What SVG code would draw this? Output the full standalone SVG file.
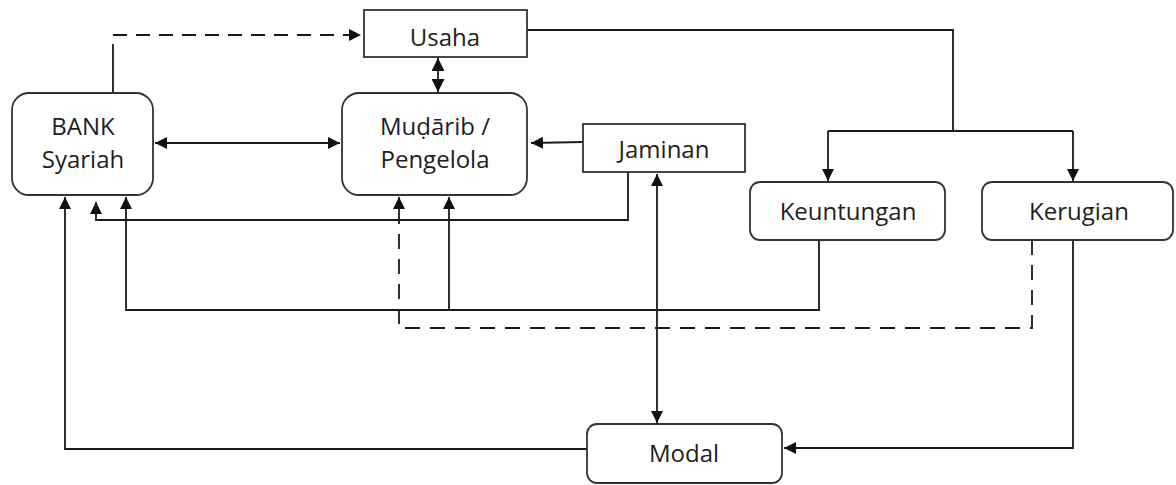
<svg xmlns="http://www.w3.org/2000/svg" width="1176" height="485" viewBox="0 0 1176 485">
<style>
.box{fill:#fff;stroke:#333;stroke-width:1.8}
.t{font-family:"Open Sans","Noto Sans",sans-serif;font-size:24px;fill:#1e1e1e;text-anchor:middle}
.c{fill:none;stroke:#1a1a1a;stroke-width:1.8}
.d{stroke-dasharray:14 9}
</style>
<defs>
<marker id="a" viewBox="0 0 10 10" refX="10" refY="5" markerWidth="12" markerHeight="13" markerUnits="userSpaceOnUse" orient="auto-start-reverse">
<path d="M0,0 L10,5 L0,10 z" fill="#111"/>
</marker>
<marker id="s" viewBox="0 0 10 10" refX="10" refY="5" markerWidth="14" markerHeight="13" markerUnits="userSpaceOnUse" orient="auto-start-reverse">
<path d="M0,0 L10,5 L0,10 z" fill="#111"/>
</marker>
</defs>
<g id="connectors">
<path class="c" d="M113,93 V44"/>
<path class="c d" d="M113,35 H361" marker-end="url(#a)"/>
<path class="c" d="M438,58 V92" marker-start="url(#s)" marker-end="url(#s)"/>
<path class="c" d="M155,143 H340" marker-start="url(#a)" marker-end="url(#a)"/>
<path class="c" d="M583,142 L531,143" marker-end="url(#a)"/>
<path class="c" d="M527,30 H953 V131"/>
<path class="c" d="M828,131 H1073"/>
<path class="c" d="M828,131 V181" marker-end="url(#a)"/>
<path class="c" d="M1073,131 V181" marker-end="url(#a)"/>
<path class="c" d="M628,172 V220 H96 V202" marker-end="url(#a)"/>
<path class="c" d="M819,240 V310 H126 V197" marker-end="url(#a)"/>
<path class="c" d="M449,310 V197" marker-end="url(#a)"/>
<path class="c" d="M1032,240 V328 H399 V197" stroke-dasharray="15 10" marker-end="url(#a)"/>
<path class="c" d="M1073,240 V448 H784" marker-end="url(#a)"/>
<path class="c" d="M587,449 H65 V197" marker-end="url(#a)"/>
<path class="c" d="M657,174 V423" marker-start="url(#a)" marker-end="url(#a)"/>
</g>
<g id="usaha">
<rect class="box" x="364" y="10" width="163" height="47"/>
<text class="t" x="445" y="46">Usaha</text>
</g>
<g id="bank">
<rect class="box" x="12" y="93" width="141" height="102" rx="17"/>
<text class="t" x="83" y="135">BANK</text>
<text class="t" x="83" y="168">Syariah</text>
</g>
<g id="mudarib">
<rect class="box" x="342" y="93" width="185" height="102" rx="17"/>
<text class="t" x="435" y="135">Muḍārib /</text>
<text class="t" x="435" y="168">Pengelola</text>
</g>
<g id="jaminan">
<rect class="box" x="583" y="124" width="162" height="48"/>
<text class="t" x="664" y="158">Jaminan</text>
</g>
<g id="keuntungan">
<rect class="box" x="750" y="182" width="195" height="58" rx="10"/>
<text class="t" x="848" y="220">Keuntungan</text>
</g>
<g id="kerugian">
<rect class="box" x="982" y="182" width="191" height="58" rx="10"/>
<text class="t" x="1079" y="220">Kerugian</text>
</g>
<g id="modal">
<rect class="box" x="587" y="424" width="195" height="59" rx="10"/>
<text class="t" x="684" y="462">Modal</text>
</g>
</svg>
